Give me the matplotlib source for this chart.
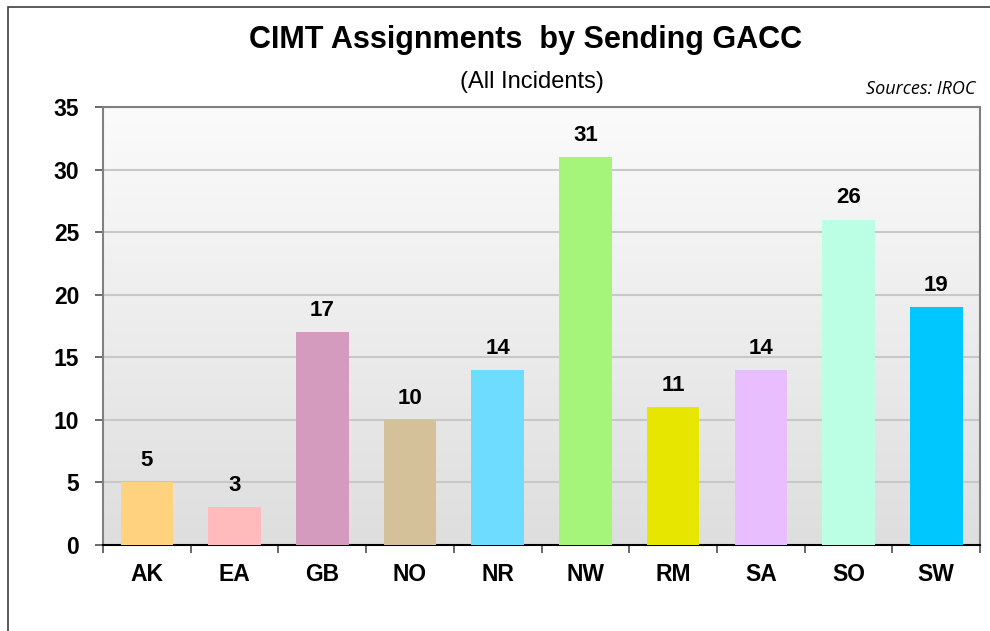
import numpy as np
import matplotlib
matplotlib.use("Agg")
import matplotlib.pyplot as plt
from matplotlib.patches import Rectangle

regions = ["AK", "EA", "GB", "NO", "NR", "NW", "RM", "SA", "SO", "SW"]
assignments = [5, 3, 17, 10, 14, 31, 11, 14, 26, 19]
bar_colors = ["#FFD280", "#FFBBBB", "#D59BBE", "#D4C19A", "#6EDCFF",
              "#A5F57A", "#E6E600", "#E8BEFF", "#BBFFE5", "#00C8FF"]
y_ticks = [0, 5, 10, 15, 20, 25, 30, 35]

plt.rcParams["font.family"] = ["Liberation Sans", "DejaVu Sans"]

fig = plt.figure(figsize=(9.9, 6.31), dpi=100)
ax = fig.add_axes([0.104, 0.1363, 0.886, 0.6941])

# frame around the whole chart (right/bottom fall outside the image)
fig.patches.append(Rectangle((8 / 990, -0.05), 1.2, 1 - 7 / 631 + 0.05,
                             transform=fig.transFigure, fill=False,
                             edgecolor="#404040", linewidth=1.2))

x = np.arange(len(regions))

# gradient plot background
grad = np.linspace(0, 1, 256).reshape(-1, 1)
ax.imshow(grad, extent=[0, 1, 0, 1], transform=ax.transAxes, aspect="auto",
          cmap=matplotlib.colors.LinearSegmentedColormap.from_list(
              "bg", ["#FBFBFB", "#DEDEDE"]), zorder=0)

ax.bar(x, assignments, width=0.6, color=bar_colors, zorder=3)
for xi, v in zip(x, assignments):
    ax.text(xi, v + 0.9, str(v), ha="center", va="bottom",
            fontsize=16, fontweight="bold", zorder=4)

ax.set_xlim(-0.5, len(regions) - 0.5)
ax.set_ylim(0, 35)
ax.set_yticks(y_ticks)
ax.set_yticklabels([str(t) for t in y_ticks], fontsize=16.5, fontweight="bold")
ax.yaxis.grid(True, color="#C8C8C8", linewidth=1.5, zorder=1)
ax.set_axisbelow(True)

ax.set_xticks(x)
ax.set_xticklabels(regions, fontsize=16.5, fontweight="bold")
ax.tick_params(axis="x", length=0, pad=13)
ax.set_xticks(np.arange(-0.5, len(regions)), minor=True)
ax.tick_params(axis="x", which="minor", length=6, width=1.2, color="#505050", direction="out")
ax.tick_params(axis="y", length=6, width=1.2, color="#505050", pad=11)

for side in ["left", "right", "top"]:
    ax.spines[side].set_color("#808080")
    ax.spines[side].set_linewidth(1.5)
ax.spines["bottom"].set_color("#000000")
ax.spines["bottom"].set_linewidth(1.5)

fig.text(526 / 990, 1 - 40 / 631, "CIMT Assignments  by Sending GACC",
         ha="center", va="center", fontsize=22, fontweight="bold")
fig.text(532 / 990, 1 - 82 / 631, "(All Incidents)", ha="center", va="center",
         fontsize=17)
fig.text(975 / 990, 1 - 89 / 631, "Sources: IROC", ha="right", va="center",
         fontsize=13, style="italic", family=["Open Sans", "DejaVu Sans"])

fig.savefig("out.png", dpi=100)
